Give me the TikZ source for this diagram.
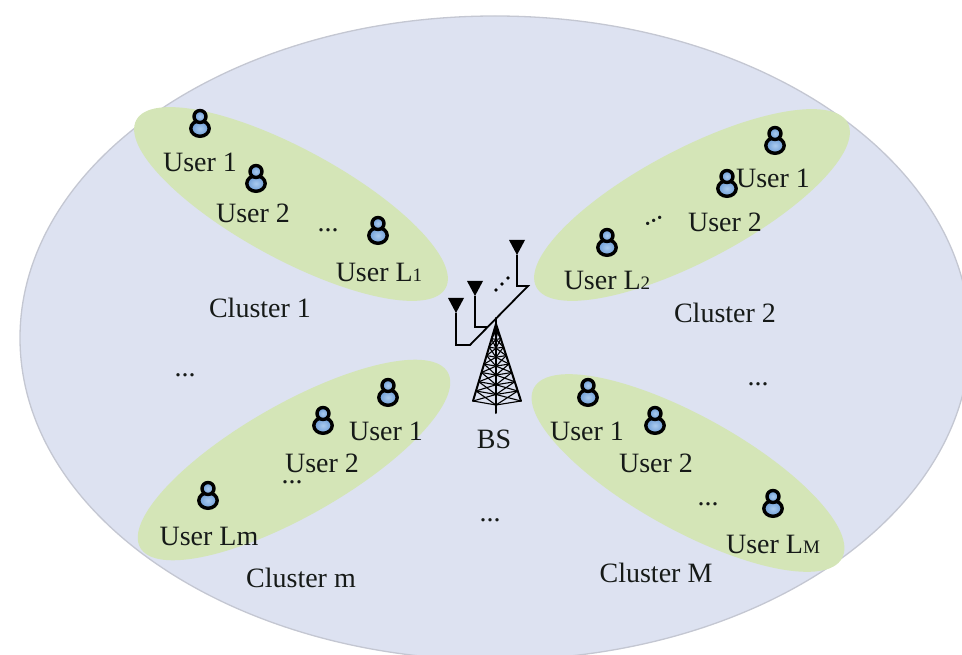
\documentclass[tikz,border=0pt]{standalone}
\usepackage{fontspec}
\setmainfont{Liberation Serif}
\usetikzlibrary{calc}

\definecolor{cellbg}{RGB}{221,226,241}
\definecolor{cellrim}{RGB}{196,199,210}
\definecolor{clustergreen}{RGB}{212,229,183}
\definecolor{userblue}{RGB}{108,156,214}
\definecolor{userlight}{RGB}{170,202,238}
\definecolor{inkdark}{RGB}{22,26,24}

\newcommand\lsub[1]{{\fontsize{19}{19}\selectfont #1}}

\tikzset{
  lbl/.style={font=\fontsize{28}{30}\selectfont, text=inkdark, inner sep=0pt, anchor=base},
  dotrow/.style={lbl, text height=3pt, text depth=0pt},
  clusterfill/.style={fill=clustergreen},
  user/.pic={
    \draw[line width=3.4pt, inner color=userlight, outer color=userblue]
      (0,5.5) ellipse [x radius=9.2, y radius=7.8];
    \draw[line width=3.4pt, inner color=userlight, outer color=userblue]
      (0,-6.5) circle [radius=6];
  },
  antenna/.style={fill=black},
  feed/.style={line width=1.8pt, black},
  leg/.style={line width=2pt, black, line cap=round},
  lattice/.style={line width=1.1pt, black},
}

\begin{document}
\begin{tikzpicture}[x=1pt,y=-1pt]
  \useasboundingbox (0,0) rectangle (962,655);

  % coverage area of the base station
  \begin{scope}
    \clip (0,0) rectangle (962,655);
    \draw[fill=cellbg, draw=cellrim, line width=1.3pt] (495,338) ellipse [x radius=475, y radius=322];
  \end{scope}

  % clusters
  \begin{scope}[shift={(291,204)}, rotate=-28.5]
    \fill[clusterfill] (0,0) ellipse [x radius=176, y radius=55];
  \end{scope}
  \begin{scope}[shift={(692,205)}, rotate=27.8]
    \fill[clusterfill] (0,0) ellipse [x radius=176, y radius=56];
  \end{scope}
  \begin{scope}[shift={(294,460)}, rotate=29.7]
    \fill[clusterfill] (0,0) ellipse [x radius=177, y radius=56];
  \end{scope}
  \begin{scope}[shift={(688,473)}, rotate=-29]
    \fill[clusterfill] (0,0) ellipse [x radius=176, y radius=57];
  \end{scope}

  % users
  \pic (u11) at (200,123) {user};
  \pic (u12) at (256,178) {user};
  \pic (u1L) at (378,230) {user};
  \pic (u21) at (775,140) {user};
  \pic (u22) at (727,183) {user};
  \pic (u2L) at (607,242) {user};
  \pic (um1) at (388,392) {user};
  \pic (um2) at (323,420) {user};
  \pic (umL) at (208,495) {user};
  \pic (uM1) at (588,392) {user};
  \pic (uM2) at (655,420) {user};
  \pic (uML) at (773,503) {user};

  % labels, cluster 1
  \node[lbl] (t11) at (200,172) {User 1};
  \node[lbl] (t12) at (253,223) {User 2};
  \node[dotrow] (d1) at (328,232) {...};
  \node[lbl] (t1L) at (379,282) {User L\lsub{1}};
  \node[lbl] (c1) at (260,318) {Cluster 1};

  % labels, cluster 2
  \node[lbl] (t21) at (773,188) {User 1};
  \node[dotrow, rotate=25, anchor=base west] (d2) at (645,227) {...};
  \node[lbl] (t22) at (725,232) {User 2};
  \node[lbl] (t2L) at (607,290) {User L\lsub{2}};
  \node[lbl] (c2) at (725,323) {Cluster 2};

  % labels, cluster m
  \node[dotrow] (dl) at (185,377) {...};
  \node[lbl] (tm1) at (386,440) {User 1};
  \node[lbl] (tm2) at (322,472) {User 2};
  \node[dotrow] (dm) at (292,483) {...};
  \node[lbl] (tmL) at (209,545) {User Lm};
  \node[lbl] (cm) at (301,587) {Cluster m};

  % labels, cluster M
  \node[dotrow] (dr) at (758,385) {...};
  \node[lbl] (tM1) at (587,440) {User 1};
  \node[lbl] (tM2) at (656,472) {User 2};
  \node[dotrow] (dM) at (708,505) {...};
  \node[lbl] (tML) at (773,553) {User L\lsub{M}};
  \node[lbl] (cM) at (656,582) {Cluster M};

  \node[dotrow] (db) at (490,521) {...};
  \node[lbl] (bs) at (494,448) {BS};

  % antenna array
  \coordinate (a1) at (456,313);
  \coordinate (a2) at (475,296);
  \coordinate (a3) at (517,255);
  \foreach \a in {a1,a2,a3}
    \fill[antenna] (\a) -- ++(-8,-15) -- ++(16,0) -- cycle;
  \coordinate (k1) at (456,345);
  \coordinate (k2) at (470,345);
  \coordinate (k3) at (528,286);
  \coordinate (k4) at (517,286);
  \coordinate (k5) at (475,327);
  \coordinate (k6) at (488,327);
  \draw[feed] (a1) -- (k1) -- (k2) -- (k3) -- (k4) -- (a3);
  \draw[feed] (a2) -- (k5) -- (k6);
  \foreach \p in {(496,290),(502,284),(508,278)}
    \fill \p circle [radius=1.8];

  % lattice tower
  \coordinate (apex) at (496,324);
  \coordinate (lf) at (473,401);
  \coordinate (rf) at (521,401);
  \coordinate (ff) at (496,405);
  \coordinate (fb) at (496,413);
  \draw[leg] (496,318) -- (apex);
  \draw[leg] (apex) -- (lf);
  \draw[leg] (apex) -- (rf);
  \draw[leg] (apex) -- (ff) -- (fb);
  \foreach \s [remember=\s as \r (initially 0.08)] in {0.19,0.3,0.41,0.52,0.63,0.75,0.87,1.0} {
    \draw[lattice] ($(apex)!\s!(lf)$) -- ($(apex)!\s!(ff)$) -- ($(apex)!\s!(rf)$);
    \draw[lattice] ($(apex)!\r!(lf)$) -- ($(apex)!\s!(ff)$);
    \draw[lattice] ($(apex)!\r!(ff)$) -- ($(apex)!\s!(lf)$);
    \draw[lattice] ($(apex)!\r!(rf)$) -- ($(apex)!\s!(ff)$);
    \draw[lattice] ($(apex)!\r!(ff)$) -- ($(apex)!\s!(rf)$);
  }
\end{tikzpicture}
\end{document}
